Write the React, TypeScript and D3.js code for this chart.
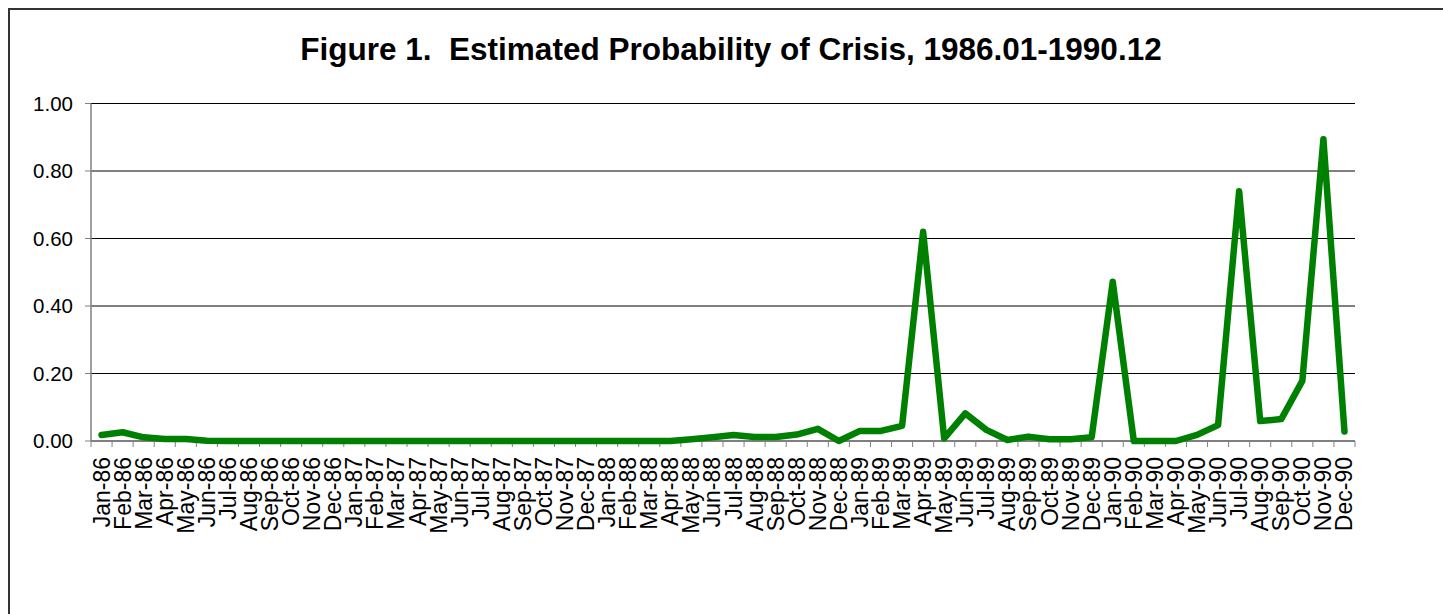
import React from "react";
import { scaleBand, scaleLinear, line, curveLinear } from "d3";

const monthNames = ["Jan", "Feb", "Mar", "Apr", "May", "Jun", "Jul", "Aug", "Sep", "Oct", "Nov", "Dec"];
const years = ["86", "87", "88", "89", "90"];

// estimated probability, one array per year
const p1986 = [0.018, 0.026, 0.011, 0.006, 0.006, 0.001, 0, 0, 0, 0, 0, 0];
const p1987 = [0, 0, 0, 0, 0, 0, 0, 0, 0, 0, 0, 0];
const p1988 = [0, 0, 0, 0, 0.005, 0.011, 0.018, 0.012, 0.012, 0.019, 0.036, 0.0];
const p1989 = [0.03, 0.03, 0.045, 0.62, 0.008, 0.082, 0.033, 0.003, 0.013, 0.005, 0.005, 0.011];
const p1990 = [0.472, 0, 0, 0, 0.018, 0.047, 0.74, 0.059, 0.065, 0.178, 0.894, 0.028];

const yTicks = [0, 0.2, 0.4, 0.6, 0.8, 1.0];

const categories = years.flatMap(y => monthNames.map(m => `${m}-${y}`));
const values = [...p1986, ...p1987, ...p1988, ...p1989, ...p1990];

const W = 1443;
const H = 614;
const plot = { left: 91, right: 1355, top: 103.5, bottom: 441 };
const font = "'Liberation Sans', Arial, sans-serif";

export default function App() {
    const x = scaleBand<string>().domain(categories).range([plot.left, plot.right]);
    const y = scaleLinear().domain([0, 1]).range([plot.bottom, plot.top]);
    const bw = x.bandwidth();

    const path = line<number>()
        .x((_, i) => (x(categories[i]) as number) + bw / 2)
        .y(d => y(d))
        .curve(curveLinear)(values);

    return (
        <svg width={W} height={H} style={{ position: "absolute", left: 0, top: 0, background: "#fff" }}>
            <rect x={0} y={0} width={W} height={H} fill="#fff" />
            {/* chart border, runs off the page to the right and bottom */}
            <rect x={9} y={9} width={W + 40} height={H + 40} fill="none" stroke="#333" strokeWidth={2} />

            <text x={731} y={59.5} textAnchor="middle" fontFamily={font} fontWeight="bold" fontSize={31.5} fill="#000">
                Figure 1.{"\u00a0\u00a0"}Estimated Probability of Crisis, 1986.01-1990.12
            </text>

            {/* gridlines + y ticks */}
            {yTicks.map(t => (
                <g key={t}>
                    <line x1={plot.left} x2={plot.right} y1={y(t)} y2={y(t)} stroke="#000" strokeWidth={1} />
                    <line x1={plot.left - 6} x2={plot.left} y1={y(t)} y2={y(t)} stroke="#808080" strokeWidth={1} />
                    <text x={73} y={y(t)} dy="0.36em" textAnchor="end" fontFamily={font} fontSize={20.5} fill="#000">
                        {t.toFixed(2)}
                    </text>
                </g>
            ))}
            <line x1={plot.left} x2={plot.left} y1={plot.top} y2={plot.bottom} stroke="#808080" strokeWidth={1.5} />

            {/* category ticks, between months */}
            {categories.map(c => (
                <line key={"t" + c} x1={x(c)} x2={x(c)} y1={plot.bottom} y2={plot.bottom + 6} stroke="#808080" strokeWidth={1} />
            ))}
            <line x1={plot.right} x2={plot.right} y1={plot.bottom} y2={plot.bottom + 6} stroke="#808080" strokeWidth={1} />

            {categories.map(c => {
                const cx = (x(c) as number) + bw / 2 + 8;
                return (
                    <text key={c} transform={`translate(${cx},457) rotate(-90)`} textAnchor="end"
                        fontFamily={font} fontSize={23} fill="#000">
                        {c}
                    </text>
                );
            })}

            <path d={path || ""} fill="none" stroke="#008000" strokeWidth={6.5} strokeLinejoin="round" strokeLinecap="round" />
        </svg>
    );
}
